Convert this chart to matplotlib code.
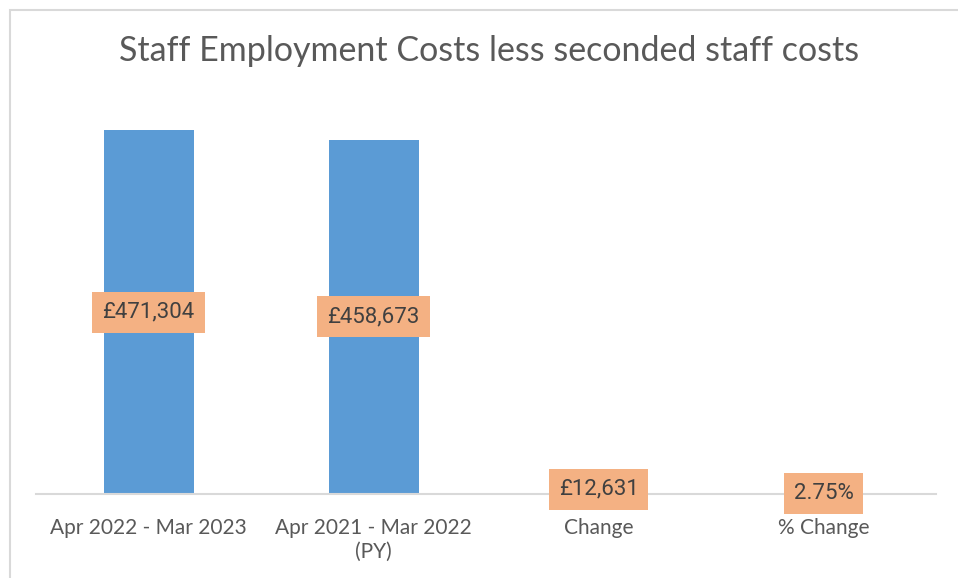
import matplotlib.pyplot as plt
from matplotlib.patches import Rectangle

categories = ["Apr 2022 - Mar 2023", "Apr 2021 - Mar 2022\n(PY)", "Change", "% Change"]
values = [471304, 458673, 12631, 2.75]
labels = ["£471,304", "£458,673", "£12,631", "2.75%"]

plt.rcParams["font.family"] = ["Lato", "DejaVu Sans"]

fig = plt.figure(figsize=(9.58, 5.78), dpi=100)
ax = fig.add_axes([36 / 958, 84 / 578, 900 / 958, 386 / 578])

x = range(len(categories))
ax.bar(x, values, width=0.4, color="#5B9BD5", zorder=2)

for xi, v, lab in zip(x, values, labels):
    ax.text(xi, v / 2, lab, ha="center", va="center", fontsize=16,
            family=["Roboto", "DejaVu Sans"], color="#404040", zorder=3,
            bbox=dict(boxstyle="square,pad=0.45", fc="#F4B183", ec="none"))

ax.set_xlim(-0.5, 3.5)
ax.set_ylim(0, 500000)
ax.set_xticks(list(x))
ax.set_xticklabels(categories, fontsize=15, color="#595959", linespacing=1.25)
ax.tick_params(axis="x", length=0, pad=17)
ax.set_yticks([])
for side in ["left", "right", "top"]:
    ax.spines[side].set_visible(False)
ax.spines["bottom"].set_color("#D9D9D9")
ax.spines["bottom"].set_linewidth(1.5)

fig.text(489 / 958, 1 - 51 / 578, "Staff Employment Costs less seconded staff costs",
         ha="center", va="center", fontsize=24.5, color="#595959")

# outer chart frame (only left and top edges fall inside the image)
fig.add_artist(Rectangle((10 / 958, -0.1), 1.2, 1.1 - 10 / 578,
                         transform=fig.transFigure, fill=False,
                         ec="#D9D9D9", lw=1.5))

fig.savefig("out.png", dpi=100)
